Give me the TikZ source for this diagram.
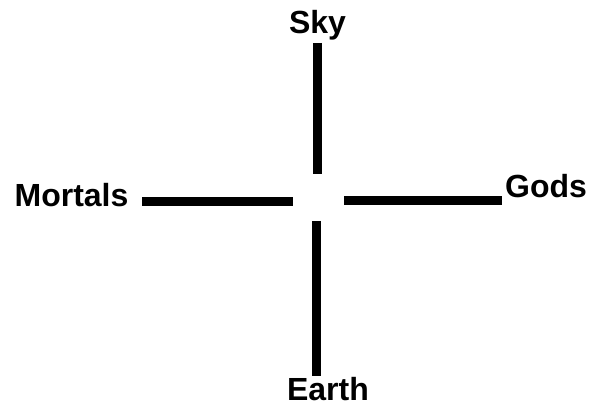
\documentclass[tikz,border=0pt]{standalone}
\usepackage{fontspec}
\setmainfont{Liberation Sans}
\usepackage{tikz}

\tikzset{
  lbl/.style={font=\fontsize{32}{36}\selectfont\bfseries, inner sep=0pt, anchor=base},
  arm/.style={line width=8.5pt, line cap=butt}
}

\begin{document}
\begin{tikzpicture}[x=1pt,y=1pt]
  \useasboundingbox (0,0) rectangle (590,407);
  % the four labels
  \node[lbl] (sky) at (317.5,373) {Sky};
  \node[lbl] (mortals) at (71.5,200) {Mortals};
  \node[lbl] (gods) at (546,209) {Gods};
  \node[lbl] (earth) at (328,6) {Earth};
  % arm ends
  \coordinate (skyend) at (317.5,364);
  \coordinate (skyin) at (317.5,233);
  \coordinate (earthin) at (316.5,186);
  \coordinate (earthend) at (316.5,31);
  \coordinate (mortend) at (142,205.5);
  \coordinate (mortin) at (293,205.5);
  \coordinate (godsin) at (344,206.5);
  \coordinate (godsend) at (502,206.5);
  \draw[arm] (skyend) -- (skyin);
  \draw[arm] (earthin) -- (earthend);
  \draw[arm] (mortend) -- (mortin);
  \draw[arm] (godsin) -- (godsend);
\end{tikzpicture}
\end{document}
